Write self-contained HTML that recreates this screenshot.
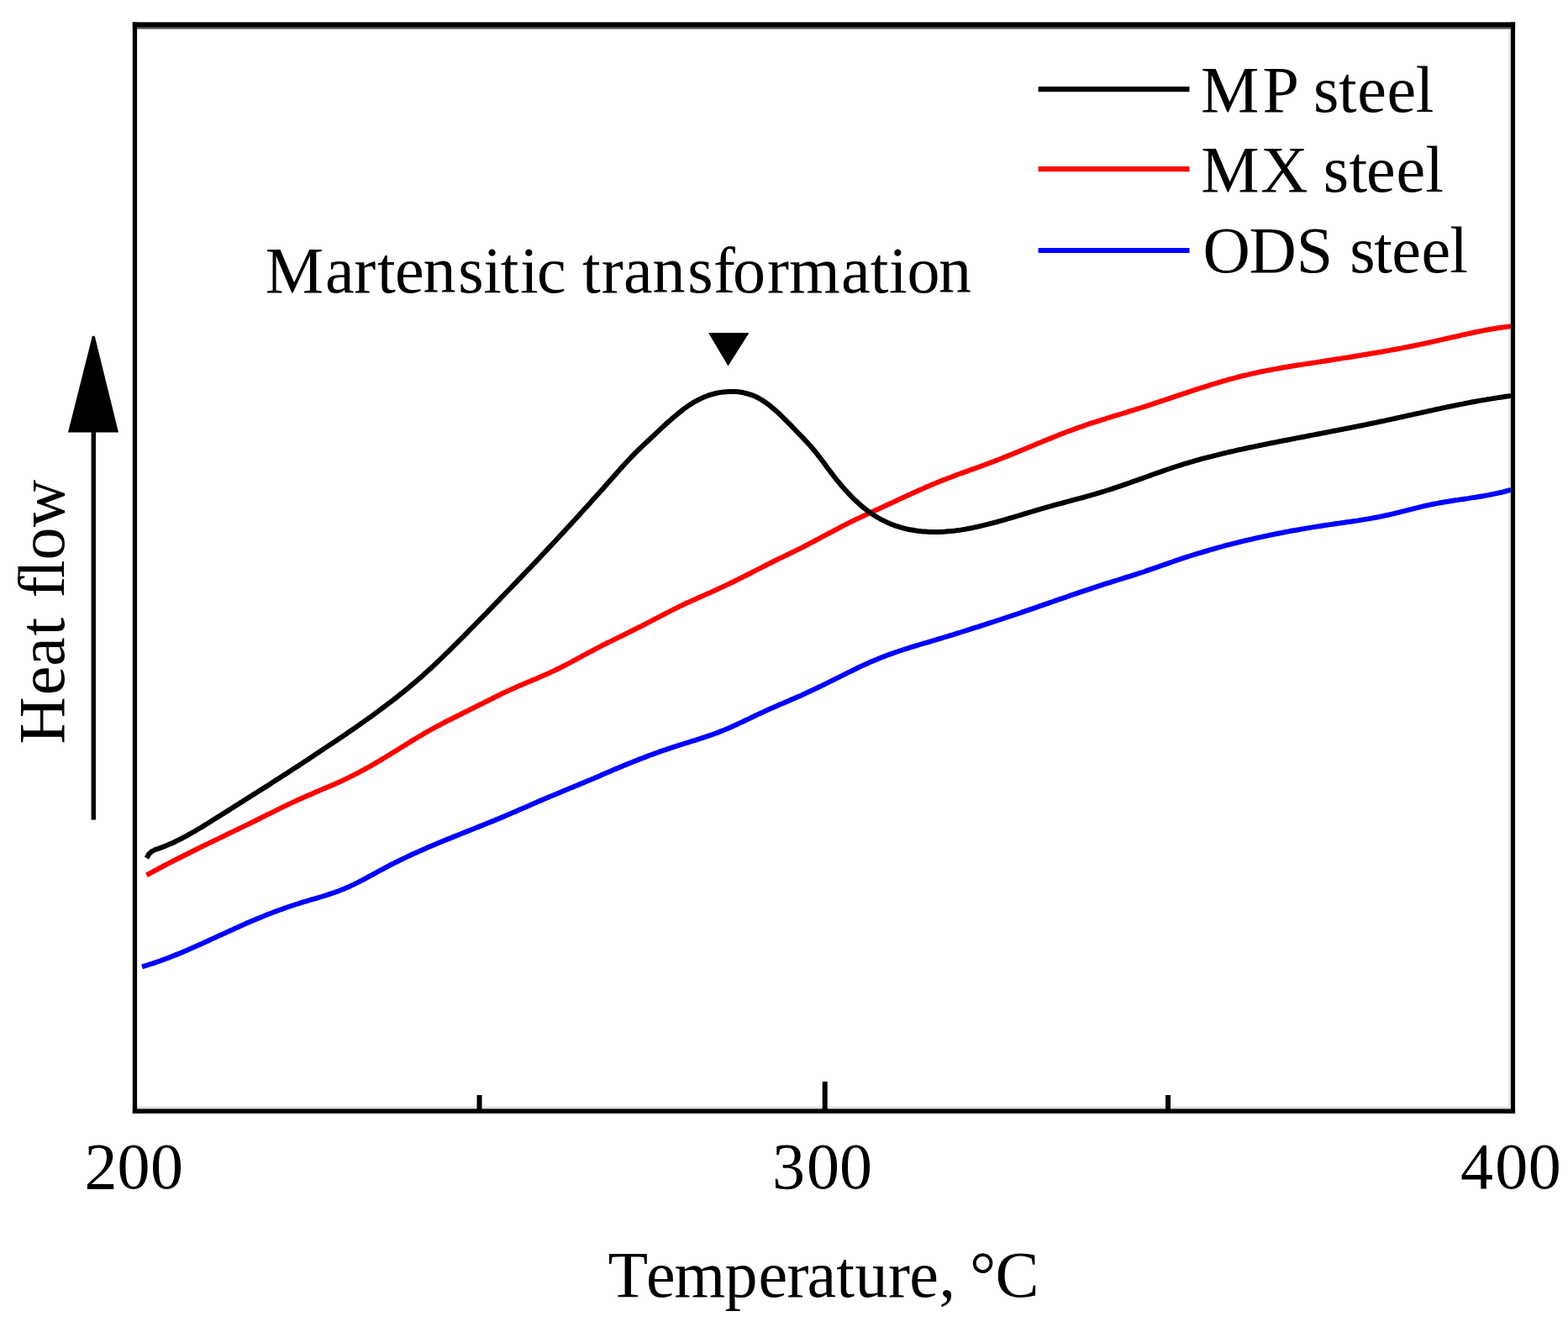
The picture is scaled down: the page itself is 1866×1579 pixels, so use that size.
<!DOCTYPE html>
<html><head><meta charset="utf-8"><title>Heat flow vs Temperature</title>
<style>
html,body{margin:0;padding:0;background:#fff;}
body{width:1866px;height:1579px;overflow:hidden;}
svg{display:block;}
text{font-family:"Liberation Serif","Times New Roman",serif;fill:#000;font-kerning:none;font-variant-ligatures:none;}
</style></head><body>
<svg width="1866" height="1579" viewBox="0 0 1866 1579">
<rect width="1866" height="1579" fill="#fff"/>
<rect x="163.1" y="1316.6" width="1634.7" height="2.4" fill="#e2e2e2"/>
<rect x="1795" y="34.5" width="2.6" height="1282" fill="#e8e8e8"/>
<g fill="none" stroke-linejoin="round" stroke-linecap="butt">
<path d="M169.1 1150.3 172.1 1149.4 175.1 1148.5 178.1 1147.5 181.1 1146.6 184.1 1145.6 187.1 1144.5 190.1 1143.5 193.1 1142.4 196.1 1141.3 199.2 1140.2 202.2 1139 205.2 1137.8 208.2 1136.6 211.2 1135.4 214.2 1134.2 217.2 1132.9 220.2 1131.7 223.2 1130.4 226.2 1129.1 229.2 1127.8 232.2 1126.4 235.2 1125.1 238.2 1123.7 241.2 1122.4 244.2 1121 247.2 1119.7 250.2 1118.3 253.2 1116.9 256.3 1115.5 259.3 1114.1 262.3 1112.8 265.3 1111.4 268.3 1110 271.3 1108.6 274.3 1107.2 277.3 1105.9 280.3 1104.5 283.3 1103.2 286.3 1101.8 289.3 1100.5 292.3 1099.1 295.3 1097.8 298.3 1096.5 301.3 1095.2 304.3 1093.9 307.3 1092.7 310.4 1091.4 313.4 1090.2 316.4 1089 319.4 1087.8 322.4 1086.7 325.4 1085.5 328.4 1084.4 331.4 1083.3 334.4 1082.2 337.4 1081.1 340.4 1080 343.4 1079 346.4 1078 349.4 1077 352.4 1076 355.4 1075.1 358.4 1074.1 361.4 1073.2 364.4 1072.3 367.5 1071.4 370.5 1070.5 373.5 1069.7 376.5 1068.8 379.5 1067.9 382.5 1067 385.5 1066.1 388.5 1065.2 391.5 1064.2 394.5 1063.2 397.5 1062.2 400.5 1061.1 403.5 1060 406.5 1058.8 409.5 1057.6 412.5 1056.3 415.5 1055 418.5 1053.6 421.5 1052.1 424.6 1050.6 427.6 1049.1 430.6 1047.6 433.6 1046 436.6 1044.4 439.6 1042.7 442.6 1041.1 445.6 1039.5 448.6 1037.8 451.6 1036.2 454.6 1034.6 457.6 1033 460.6 1031.4 463.6 1029.8 466.6 1028.3 469.6 1026.7 472.6 1025.2 475.6 1023.8 478.7 1022.3 481.7 1020.9 484.7 1019.4 487.7 1018 490.7 1016.6 493.7 1015.3 496.7 1013.9 499.7 1012.6 502.7 1011.2 505.7 1009.9 508.7 1008.6 511.7 1007.3 514.7 1006.1 517.7 1004.8 520.7 1003.5 523.7 1002.3 526.7 1001 529.7 999.8 532.7 998.6 535.8 997.4 538.8 996.1 541.8 994.9 544.8 993.7 547.8 992.5 550.8 991.3 553.8 990.1 556.8 988.9 559.8 987.7 562.8 986.5 565.8 985.3 568.8 984.1 571.8 982.9 574.8 981.7 577.8 980.5 580.8 979.3 583.8 978.1 586.8 976.9 589.8 975.6 592.9 974.4 595.9 973.1 598.9 971.9 601.9 970.6 604.9 969.3 607.9 968 610.9 966.7 613.9 965.4 616.9 964.1 619.9 962.8 622.9 961.5 625.9 960.2 628.9 958.9 631.9 957.6 634.9 956.3 637.9 954.9 640.9 953.6 643.9 952.4 647 951.1 650 949.8 653 948.5 656 947.2 659 946 662 944.7 665 943.5 668 942.3 671 941 674 939.8 677 938.5 680 937.3 683 936.1 686 934.8 689 933.6 692 932.3 695 931.1 698 929.8 701 928.5 704.1 927.2 707.1 926 710.1 924.7 713.1 923.4 716.1 922.1 719.1 920.8 722.1 919.5 725.1 918.2 728.1 916.9 731.1 915.6 734.1 914.4 737.1 913.1 740.1 911.9 743.1 910.6 746.1 909.4 749.1 908.2 752.1 907 755.1 905.8 758.1 904.6 761.2 903.4 764.2 902.2 767.2 901.1 770.2 899.9 773.2 898.8 776.2 897.7 779.2 896.6 782.2 895.5 785.2 894.4 788.2 893.4 791.2 892.3 794.2 891.3 797.2 890.3 800.2 889.3 803.2 888.3 806.2 887.4 809.2 886.4 812.2 885.5 815.3 884.5 818.3 883.6 821.3 882.7 824.3 881.7 827.3 880.8 830.3 879.8 833.3 878.9 836.3 877.9 839.3 876.9 842.3 875.9 845.3 874.9 848.3 873.8 851.3 872.7 854.3 871.6 857.3 870.4 860.3 869.2 863.3 868 866.3 866.7 869.3 865.4 872.4 864 875.4 862.7 878.4 861.3 881.4 859.9 884.4 858.5 887.4 857 890.4 855.6 893.4 854.2 896.4 852.7 899.4 851.3 902.4 849.9 905.4 848.5 908.4 847.1 911.4 845.7 914.4 844.3 917.4 843 920.4 841.7 923.4 840.4 926.4 839.1 929.5 837.8 932.5 836.5 935.5 835.2 938.5 833.9 941.5 832.6 944.5 831.3 947.5 830 950.5 828.7 953.5 827.4 956.5 826 959.5 824.6 962.5 823.3 965.5 821.8 968.5 820.4 971.5 819 974.5 817.5 977.5 816.1 980.5 814.6 983.6 813.1 986.6 811.6 989.6 810.1 992.6 808.6 995.6 807.1 998.6 805.6 1001.6 804.1 1004.6 802.6 1007.6 801.1 1010.6 799.6 1013.6 798.2 1016.6 796.7 1019.6 795.3 1022.6 793.8 1025.6 792.4 1028.6 791 1031.6 789.7 1034.6 788.3 1037.6 787 1040.7 785.7 1043.7 784.5 1046.7 783.2 1049.7 782 1052.7 780.9 1055.7 779.7 1058.7 778.6 1061.7 777.6 1064.7 776.5 1067.7 775.5 1070.7 774.5 1073.7 773.5 1076.7 772.5 1079.7 771.6 1082.7 770.6 1085.7 769.7 1088.7 768.8 1091.7 767.9 1094.7 767 1097.8 766 1100.8 765.1 1103.8 764.3 1106.8 763.4 1109.8 762.5 1112.8 761.6 1115.8 760.7 1118.8 759.8 1121.8 758.9 1124.8 758 1127.8 757.1 1130.8 756.2 1133.8 755.3 1136.8 754.3 1139.8 753.4 1142.8 752.5 1145.8 751.5 1148.8 750.6 1151.8 749.6 1154.9 748.7 1157.9 747.7 1160.9 746.7 1163.9 745.8 1166.9 744.8 1169.9 743.8 1172.9 742.9 1175.9 741.9 1178.9 740.9 1181.9 740 1184.9 739 1187.9 738 1190.9 737 1193.9 736 1196.9 735 1199.9 734 1202.9 733 1205.9 732 1209 731 1212 730 1215 729 1218 727.9 1221 726.9 1224 725.9 1227 724.8 1230 723.8 1233 722.8 1236 721.7 1239 720.7 1242 719.6 1245 718.6 1248 717.6 1251 716.5 1254 715.5 1257 714.4 1260 713.4 1263 712.3 1266.1 711.3 1269.1 710.3 1272.1 709.2 1275.1 708.2 1278.1 707.2 1281.1 706.1 1284.1 705.1 1287.1 704.1 1290.1 703.1 1293.1 702.1 1296.1 701.1 1299.1 700.1 1302.1 699.1 1305.1 698.1 1308.1 697.1 1311.1 696.2 1314.1 695.2 1317.1 694.2 1320.1 693.3 1323.2 692.3 1326.2 691.4 1329.2 690.5 1332.2 689.5 1335.2 688.6 1338.2 687.7 1341.2 686.7 1344.2 685.8 1347.2 684.8 1350.2 683.9 1353.2 682.9 1356.2 681.9 1359.2 681 1362.2 680 1365.2 678.9 1368.2 677.9 1371.2 676.9 1374.2 675.8 1377.3 674.8 1380.3 673.7 1383.3 672.7 1386.3 671.6 1389.3 670.6 1392.3 669.5 1395.3 668.5 1398.3 667.4 1401.3 666.4 1404.3 665.4 1407.3 664.4 1410.3 663.4 1413.3 662.4 1416.3 661.5 1419.3 660.5 1422.3 659.6 1425.3 658.7 1428.3 657.8 1431.3 656.9 1434.4 656 1437.4 655.1 1440.4 654.2 1443.4 653.4 1446.4 652.5 1449.4 651.7 1452.4 650.9 1455.4 650 1458.4 649.2 1461.4 648.4 1464.4 647.7 1467.4 646.9 1470.4 646.1 1473.4 645.4 1476.4 644.6 1479.4 643.9 1482.4 643.2 1485.4 642.5 1488.4 641.8 1491.5 641.1 1494.5 640.4 1497.5 639.7 1500.5 639.1 1503.5 638.4 1506.5 637.8 1509.5 637.1 1512.5 636.5 1515.5 635.9 1518.5 635.3 1521.5 634.7 1524.5 634.1 1527.5 633.5 1530.5 632.9 1533.5 632.4 1536.5 631.8 1539.5 631.2 1542.5 630.7 1545.6 630.2 1548.6 629.6 1551.6 629.1 1554.6 628.6 1557.6 628.1 1560.6 627.6 1563.6 627.1 1566.6 626.6 1569.6 626.2 1572.6 625.7 1575.6 625.3 1578.6 624.8 1581.6 624.4 1584.6 623.9 1587.6 623.5 1590.6 623 1593.6 622.6 1596.6 622.2 1599.6 621.8 1602.7 621.3 1605.7 620.9 1608.7 620.5 1611.7 620 1614.7 619.6 1617.7 619.1 1620.7 618.6 1623.7 618.1 1626.7 617.6 1629.7 617.1 1632.7 616.6 1635.7 616 1638.7 615.5 1641.7 614.9 1644.7 614.3 1647.7 613.6 1650.7 613 1653.7 612.3 1656.7 611.6 1659.8 610.9 1662.8 610.1 1665.8 609.4 1668.8 608.6 1671.8 607.9 1674.8 607.1 1677.8 606.3 1680.8 605.6 1683.8 604.8 1686.8 604.1 1689.8 603.3 1692.8 602.6 1695.8 601.9 1698.8 601.3 1701.8 600.6 1704.8 600 1707.8 599.4 1710.8 598.9 1713.9 598.3 1716.9 597.8 1719.9 597.3 1722.9 596.8 1725.9 596.3 1728.9 595.8 1731.9 595.3 1734.9 594.9 1737.9 594.4 1740.9 594 1743.9 593.5 1746.9 593.1 1749.9 592.6 1752.9 592.1 1755.9 591.7 1758.9 591.2 1761.9 590.7 1764.9 590.2 1767.9 589.6 1771 589.1 1774 588.5 1777 587.9 1780 587.3 1783 586.6 1786 586 1789 585.3 1792 584.5 1795 583.7 1798 582.9" stroke="#0000ff" stroke-width="6"/>
<path d="M174.5 1041.4 177.5 1039.7 180.5 1038.1 183.5 1036.4 186.5 1034.8 189.5 1033.2 192.5 1031.6 195.5 1030 198.5 1028.4 201.5 1026.9 204.5 1025.3 207.5 1023.8 210.5 1022.2 213.5 1020.7 216.5 1019.2 219.5 1017.7 222.5 1016.2 225.5 1014.7 228.5 1013.2 231.5 1011.7 234.5 1010.2 237.5 1008.8 240.5 1007.3 243.5 1005.8 246.5 1004.4 249.5 1002.9 252.5 1001.5 255.5 1000 258.5 998.6 261.5 997.1 264.5 995.7 267.5 994.2 270.5 992.8 273.5 991.3 276.5 989.9 279.5 988.4 282.5 987 285.5 985.5 288.5 984.1 291.5 982.6 294.5 981.2 297.5 979.7 300.5 978.3 303.5 976.8 306.5 975.3 309.5 973.8 312.5 972.3 315.5 970.8 318.5 969.3 321.5 967.9 324.5 966.4 327.5 964.9 330.5 963.4 333.5 961.9 336.5 960.4 339.6 958.9 342.6 957.5 345.6 956.1 348.6 954.6 351.6 953.2 354.6 951.8 357.6 950.5 360.6 949.1 363.6 947.8 366.6 946.5 369.6 945.2 372.6 943.9 375.6 942.6 378.6 941.4 381.6 940.1 384.6 938.8 387.6 937.6 390.6 936.3 393.6 935 396.6 933.7 399.6 932.4 402.6 931 405.6 929.7 408.6 928.3 411.6 926.9 414.6 925.4 417.6 923.9 420.6 922.4 423.6 920.9 426.6 919.3 429.6 917.7 432.6 916.1 435.6 914.4 438.6 912.8 441.6 911.1 444.6 909.4 447.6 907.6 450.6 905.9 453.6 904.1 456.6 902.3 459.6 900.5 462.6 898.6 465.6 896.8 468.6 894.9 471.6 893.1 474.6 891.2 477.6 889.4 480.6 887.5 483.6 885.6 486.6 883.8 489.6 881.9 492.6 880.1 495.6 878.3 498.6 876.5 501.6 874.7 504.6 872.9 507.6 871.2 510.6 869.5 513.6 867.8 516.6 866.2 519.6 864.5 522.6 863 525.6 861.4 528.6 859.8 531.6 858.3 534.6 856.8 537.6 855.3 540.6 853.8 543.6 852.3 546.6 850.8 549.6 849.3 552.6 847.8 555.6 846.3 558.6 844.8 561.6 843.3 564.6 841.8 567.6 840.3 570.6 838.8 573.6 837.3 576.6 835.7 579.6 834.2 582.6 832.7 585.6 831.2 588.6 829.7 591.6 828.2 594.6 826.8 597.6 825.3 600.6 823.9 603.6 822.5 606.6 821.1 609.6 819.7 612.6 818.4 615.6 817.1 618.6 815.8 621.6 814.5 624.6 813.2 627.6 811.9 630.6 810.7 633.6 809.4 636.6 808.2 639.6 806.9 642.6 805.6 645.6 804.3 648.6 803 651.6 801.7 654.6 800.3 657.6 798.9 660.6 797.5 663.7 796 666.7 794.5 669.7 793 672.7 791.5 675.7 789.9 678.7 788.3 681.7 786.7 684.7 785.1 687.7 783.5 690.7 781.8 693.7 780.2 696.7 778.6 699.7 777 702.7 775.4 705.7 773.8 708.7 772.2 711.7 770.6 714.7 769.1 717.7 767.5 720.7 766 723.7 764.5 726.7 763.1 729.7 761.6 732.7 760.1 735.7 758.6 738.7 757.2 741.7 755.7 744.7 754.2 747.7 752.8 750.7 751.3 753.7 749.8 756.7 748.3 759.7 746.8 762.7 745.3 765.7 743.7 768.7 742.2 771.7 740.6 774.7 739.1 777.7 737.5 780.7 735.9 783.7 734.4 786.7 732.8 789.7 731.2 792.7 729.7 795.7 728.1 798.7 726.6 801.7 725.1 804.7 723.6 807.7 722.1 810.7 720.7 813.7 719.3 816.7 717.8 819.7 716.5 822.7 715.1 825.7 713.7 828.7 712.4 831.7 711 834.7 709.7 837.7 708.4 840.7 707 843.7 705.7 846.7 704.4 849.7 703 852.7 701.7 855.7 700.3 858.7 698.9 861.7 697.5 864.7 696.1 867.7 694.7 870.7 693.2 873.7 691.7 876.7 690.2 879.7 688.8 882.7 687.3 885.7 685.7 888.7 684.2 891.7 682.7 894.7 681.2 897.7 679.6 900.7 678.1 903.7 676.6 906.7 675.1 909.7 673.5 912.7 672 915.7 670.5 918.7 669 921.7 667.5 924.7 666 927.7 664.5 930.7 663.1 933.7 661.6 936.7 660.2 939.7 658.8 942.7 657.3 945.7 655.9 948.7 654.4 951.7 652.9 954.7 651.4 957.7 649.8 960.7 648.3 963.7 646.7 966.7 645.1 969.7 643.5 972.7 641.9 975.7 640.3 978.7 638.7 981.7 637.1 984.7 635.5 987.8 633.9 990.8 632.3 993.8 630.7 996.8 629.1 999.8 627.5 1002.8 625.9 1005.8 624.4 1008.8 622.9 1011.8 621.4 1014.8 619.9 1017.8 618.4 1020.8 617 1023.8 615.6 1026.8 614.2 1029.8 612.8 1032.8 611.4 1035.8 610 1038.8 608.6 1041.8 607.2 1044.8 605.9 1047.8 604.5 1050.8 603.1 1053.8 601.7 1056.8 600.3 1059.8 599 1062.8 597.6 1065.8 596.2 1068.8 594.8 1071.8 593.4 1074.8 592 1077.8 590.6 1080.8 589.2 1083.8 587.9 1086.8 586.5 1089.8 585.2 1092.8 583.8 1095.8 582.5 1098.8 581.2 1101.8 579.8 1104.8 578.6 1107.8 577.3 1110.8 576 1113.8 574.8 1116.8 573.5 1119.8 572.3 1122.8 571.1 1125.8 570 1128.8 568.8 1131.8 567.7 1134.8 566.5 1137.8 565.4 1140.8 564.3 1143.8 563.2 1146.8 562.2 1149.8 561.1 1152.8 560 1155.8 558.9 1158.8 557.8 1161.8 556.8 1164.8 555.7 1167.8 554.6 1170.8 553.5 1173.8 552.4 1176.8 551.3 1179.8 550.1 1182.8 549 1185.8 547.8 1188.8 546.7 1191.8 545.5 1194.8 544.3 1197.8 543.1 1200.8 541.9 1203.8 540.7 1206.8 539.4 1209.8 538.2 1212.8 537 1215.8 535.7 1218.8 534.5 1221.8 533.2 1224.8 532 1227.8 530.7 1230.8 529.5 1233.8 528.2 1236.8 527 1239.8 525.8 1242.8 524.5 1245.8 523.3 1248.8 522.1 1251.8 520.9 1254.8 519.7 1257.8 518.5 1260.8 517.3 1263.8 516.1 1266.8 515 1269.8 513.8 1272.8 512.7 1275.8 511.6 1278.8 510.5 1281.8 509.4 1284.8 508.3 1287.8 507.3 1290.8 506.3 1293.8 505.2 1296.8 504.2 1299.8 503.2 1302.8 502.3 1305.8 501.3 1308.8 500.3 1311.9 499.4 1314.9 498.5 1317.9 497.5 1320.9 496.6 1323.9 495.7 1326.9 494.7 1329.9 493.8 1332.9 492.9 1335.9 492 1338.9 491.1 1341.9 490.2 1344.9 489.2 1347.9 488.3 1350.9 487.4 1353.9 486.4 1356.9 485.5 1359.9 484.6 1362.9 483.6 1365.9 482.6 1368.9 481.7 1371.9 480.7 1374.9 479.7 1377.9 478.7 1380.9 477.7 1383.9 476.7 1386.9 475.7 1389.9 474.7 1392.9 473.7 1395.9 472.7 1398.9 471.7 1401.9 470.7 1404.9 469.7 1407.9 468.7 1410.9 467.7 1413.9 466.7 1416.9 465.7 1419.9 464.7 1422.9 463.7 1425.9 462.7 1428.9 461.7 1431.9 460.8 1434.9 459.8 1437.9 458.9 1440.9 457.9 1443.9 457 1446.9 456.1 1449.9 455.2 1452.9 454.3 1455.9 453.4 1458.9 452.6 1461.9 451.7 1464.9 450.9 1467.9 450.1 1470.9 449.3 1473.9 448.5 1476.9 447.7 1479.9 447 1482.9 446.3 1485.9 445.6 1488.9 444.9 1491.9 444.2 1494.9 443.6 1497.9 442.9 1500.9 442.3 1503.9 441.7 1506.9 441.1 1509.9 440.5 1512.9 440 1515.9 439.4 1518.9 438.9 1521.9 438.3 1524.9 437.8 1527.9 437.3 1530.9 436.8 1533.9 436.3 1536.9 435.8 1539.9 435.3 1542.9 434.8 1545.9 434.3 1548.9 433.9 1551.9 433.4 1554.9 432.9 1557.9 432.5 1560.9 432 1563.9 431.5 1566.9 431.1 1569.9 430.6 1572.9 430.1 1575.9 429.7 1578.9 429.2 1581.9 428.7 1584.9 428.3 1587.9 427.8 1590.9 427.3 1593.9 426.9 1596.9 426.4 1599.9 425.9 1602.9 425.5 1605.9 425 1608.9 424.5 1611.9 424 1614.9 423.5 1617.9 423 1620.9 422.5 1623.9 422 1626.9 421.5 1629.9 421 1632.9 420.5 1636 420 1639 419.5 1642 419 1645 418.5 1648 417.9 1651 417.4 1654 416.9 1657 416.3 1660 415.8 1663 415.2 1666 414.6 1669 414.1 1672 413.5 1675 412.9 1678 412.3 1681 411.7 1684 411.1 1687 410.5 1690 409.9 1693 409.2 1696 408.6 1699 407.9 1702 407.3 1705 406.6 1708 405.9 1711 405.3 1714 404.6 1717 403.9 1720 403.2 1723 402.5 1726 401.8 1729 401.1 1732 400.5 1735 399.8 1738 399.1 1741 398.4 1744 397.8 1747 397.1 1750 396.5 1753 395.8 1756 395.2 1759 394.6 1762 394 1765 393.4 1768 392.8 1771 392.3 1774 391.7 1777 391.2 1780 390.7 1783 390.2 1786 389.8 1789 389.4 1792 389 1795 388.6 1798 388.2" stroke="#ff0000" stroke-width="6"/>
<path d="M174.5 1021 177 1016.5 180.5 1013.2 185 1010.9 188 1010 191 1008.9 194 1007.8 197 1006.6 200 1005.3 203 1004 206 1002.7 209 1001.2 212 999.8 215 998.2 218 996.7 221 995.1 224 993.4 227.1 991.7 230.1 990 233.1 988.3 236.1 986.5 239.1 984.7 242.1 982.9 245.1 981 248.1 979.2 251.1 977.3 254.1 975.4 257.1 973.5 260.1 971.6 263.1 969.7 266.1 967.9 269.1 966 272.1 964.1 275.1 962.2 278.1 960.3 281.1 958.4 284.1 956.5 287.1 954.6 290.1 952.7 293.1 950.8 296.1 948.9 299.1 947 302.1 945.1 305.1 943.2 308.2 941.3 311.2 939.4 314.2 937.5 317.2 935.6 320.2 933.7 323.2 931.7 326.2 929.8 329.2 927.9 332.2 926 335.2 924 338.2 922.1 341.2 920.2 344.2 918.2 347.2 916.3 350.2 914.3 353.2 912.4 356.2 910.4 359.2 908.5 362.2 906.5 365.2 904.5 368.2 902.6 371.2 900.6 374.2 898.6 377.2 896.6 380.2 894.6 383.2 892.6 386.2 890.6 389.3 888.6 392.3 886.6 395.3 884.6 398.3 882.6 401.3 880.5 404.3 878.5 407.3 876.5 410.3 874.4 413.3 872.4 416.3 870.3 419.3 868.2 422.3 866.2 425.3 864.1 428.3 862 431.3 859.9 434.3 857.7 437.3 855.6 440.3 853.5 443.3 851.3 446.3 849.1 449.3 846.9 452.3 844.7 455.3 842.5 458.3 840.2 461.3 837.9 464.3 835.6 467.4 833.3 470.4 831 473.4 828.6 476.4 826.2 479.4 823.8 482.4 821.4 485.4 818.9 488.4 816.4 491.4 813.9 494.4 811.4 497.4 808.8 500.4 806.2 503.4 803.5 506.4 800.8 509.4 798.1 512.4 795.4 515.4 792.6 518.4 789.8 521.4 786.9 524.4 784.1 527.4 781.2 530.4 778.2 533.4 775.3 536.4 772.3 539.4 769.4 542.4 766.4 545.4 763.3 548.5 760.3 551.5 757.3 554.5 754.3 557.5 751.2 560.5 748.1 563.5 745.1 566.5 742 569.5 739 572.5 735.9 575.5 732.8 578.5 729.8 581.5 726.7 584.5 723.6 587.5 720.5 590.5 717.4 593.5 714.3 596.5 711.2 599.5 708.1 602.5 705 605.5 701.9 608.5 698.8 611.5 695.7 614.5 692.6 617.5 689.4 620.5 686.3 623.5 683.2 626.5 680 629.6 676.9 632.6 673.7 635.6 670.5 638.6 667.4 641.6 664.2 644.6 661 647.6 657.8 650.6 654.6 653.6 651.4 656.6 648.2 659.6 645 662.6 641.8 665.6 638.5 668.6 635.3 671.6 632.1 674.6 628.8 677.6 625.5 680.6 622.3 683.6 619 686.6 615.7 689.6 612.4 692.6 609.1 695.6 605.8 698.6 602.5 701.6 599.2 704.6 595.8 707.6 592.5 710.7 589.1 713.7 585.8 716.7 582.4 719.7 579 722.7 575.6 725.7 572.2 728.7 568.8 731.7 565.4 734.7 562 737.7 558.6 740.7 555.2 743.7 551.9 746.7 548.7 749.7 545.5 752.7 542.4 755.7 539.3 758.7 536.4 761.7 533.5 764.7 530.6 767.7 527.8 770.7 525 773.7 522.2 776.7 519.4 779.7 516.6 782.7 513.7 785.7 510.9 788.7 508.1 791.8 505.3 794.8 502.6 797.8 499.9 800.8 497.3 803.8 494.7 806.8 492.2 809.8 489.8 812.8 487.4 815.8 485.2 818.8 483.1 821.8 481.1 824.8 479.2 827.8 477.5 830.8 475.9 833.8 474.4 836.8 473 839.8 471.8 842.8 470.7 845.8 469.7 848.8 468.8 851.8 468 854.8 467.4 857.8 466.9 860.8 466.5 863.8 466.2 866.8 466 869.8 465.9 872.9 465.9 875.9 466.1 878.9 466.3 881.9 466.7 884.9 467.3 887.9 468 890.9 468.8 893.9 469.8 896.9 470.9 899.9 472.3 902.9 473.8 905.9 475.5 908.9 477.4 911.9 479.5 914.9 481.7 917.9 484.1 920.9 486.6 923.9 489.2 926.9 492 929.9 494.8 932.9 497.8 935.9 500.8 938.9 503.8 941.9 506.9 944.9 510 947.9 513.2 950.9 516.3 954 519.4 957 522.6 960 525.8 963 529 966 532.4 969 536 972 539.7 975 543.6 978 547.5 981 551.6 984 555.6 987 559.7 990 563.6 993 567.5 996 571.3 999 574.9 1002 578.5 1005 581.9 1008 585.2 1011 588.4 1014 591.5 1017 594.5 1020 597.3 1023 600.1 1026 602.6 1029 605.1 1032.1 607.4 1035.1 609.7 1038.1 611.7 1041.1 613.7 1044.1 615.5 1047.1 617.3 1050.1 618.9 1053.1 620.4 1056.1 621.8 1059.1 623.1 1062.1 624.3 1065.1 625.4 1068.1 626.4 1071.1 627.4 1074.1 628.2 1077.1 629 1080.1 629.7 1083.1 630.3 1086.1 630.8 1089.1 631.3 1092.1 631.7 1095.1 632.1 1098.1 632.4 1101.1 632.6 1104.1 632.8 1107.1 632.9 1110.1 633 1113.2 633 1116.2 633 1119.2 632.9 1122.2 632.7 1125.2 632.6 1128.2 632.3 1131.2 632.1 1134.2 631.7 1137.2 631.4 1140.2 631 1143.2 630.6 1146.2 630.1 1149.2 629.6 1152.2 629 1155.2 628.5 1158.2 627.9 1161.2 627.2 1164.2 626.6 1167.2 625.9 1170.2 625.2 1173.2 624.4 1176.2 623.7 1179.2 622.9 1182.2 622.1 1185.2 621.3 1188.2 620.5 1191.2 619.6 1194.3 618.8 1197.3 617.9 1200.3 617 1203.3 616.2 1206.3 615.3 1209.3 614.4 1212.3 613.5 1215.3 612.6 1218.3 611.7 1221.3 610.8 1224.3 609.9 1227.3 609 1230.3 608.1 1233.3 607.2 1236.3 606.3 1239.3 605.4 1242.3 604.6 1245.3 603.7 1248.3 602.9 1251.3 602 1254.3 601.2 1257.3 600.4 1260.3 599.6 1263.3 598.8 1266.3 598 1269.3 597.2 1272.3 596.3 1275.4 595.5 1278.4 594.7 1281.4 593.9 1284.4 593.1 1287.4 592.3 1290.4 591.5 1293.4 590.6 1296.4 589.8 1299.4 588.9 1302.4 588.1 1305.4 587.2 1308.4 586.3 1311.4 585.4 1314.4 584.5 1317.4 583.5 1320.4 582.6 1323.4 581.6 1326.4 580.6 1329.4 579.6 1332.4 578.6 1335.4 577.6 1338.4 576.6 1341.4 575.5 1344.4 574.5 1347.4 573.4 1350.4 572.3 1353.4 571.3 1356.5 570.2 1359.5 569.1 1362.5 568 1365.5 567 1368.5 565.9 1371.5 564.8 1374.5 563.7 1377.5 562.7 1380.5 561.6 1383.5 560.6 1386.5 559.5 1389.5 558.5 1392.5 557.5 1395.5 556.5 1398.5 555.5 1401.5 554.5 1404.5 553.6 1407.5 552.6 1410.5 551.7 1413.5 550.8 1416.5 549.9 1419.5 549.1 1422.5 548.2 1425.5 547.3 1428.5 546.5 1431.5 545.7 1434.5 544.9 1437.6 544.1 1440.6 543.3 1443.6 542.6 1446.6 541.8 1449.6 541.1 1452.6 540.3 1455.6 539.6 1458.6 538.9 1461.6 538.2 1464.6 537.5 1467.6 536.8 1470.6 536.1 1473.6 535.4 1476.6 534.8 1479.6 534.1 1482.6 533.5 1485.6 532.8 1488.6 532.2 1491.6 531.6 1494.6 531 1497.6 530.3 1500.6 529.7 1503.6 529.1 1506.6 528.5 1509.6 527.9 1512.6 527.3 1515.6 526.7 1518.7 526.1 1521.7 525.5 1524.7 524.9 1527.7 524.3 1530.7 523.8 1533.7 523.2 1536.7 522.6 1539.7 522 1542.7 521.4 1545.7 520.8 1548.7 520.3 1551.7 519.7 1554.7 519.1 1557.7 518.5 1560.7 517.9 1563.7 517.4 1566.7 516.8 1569.7 516.2 1572.7 515.6 1575.7 515 1578.7 514.5 1581.7 513.9 1584.7 513.3 1587.7 512.7 1590.7 512.1 1593.7 511.5 1596.8 511 1599.8 510.4 1602.8 509.8 1605.8 509.2 1608.8 508.6 1611.8 508 1614.8 507.4 1617.8 506.8 1620.8 506.2 1623.8 505.6 1626.8 505 1629.8 504.3 1632.8 503.7 1635.8 503.1 1638.8 502.5 1641.8 501.8 1644.8 501.2 1647.8 500.6 1650.8 499.9 1653.8 499.3 1656.8 498.6 1659.8 498 1662.8 497.3 1665.8 496.7 1668.8 496 1671.8 495.4 1674.8 494.7 1677.9 494 1680.9 493.4 1683.9 492.7 1686.9 492 1689.9 491.4 1692.9 490.7 1695.9 490.1 1698.9 489.4 1701.9 488.7 1704.9 488.1 1707.9 487.4 1710.9 486.8 1713.9 486.1 1716.9 485.5 1719.9 484.9 1722.9 484.2 1725.9 483.6 1728.9 483 1731.9 482.4 1734.9 481.8 1737.9 481.1 1740.9 480.6 1743.9 480 1746.9 479.4 1749.9 478.8 1752.9 478.2 1755.9 477.7 1759 477.1 1762 476.6 1765 476.1 1768 475.6 1771 475 1774 474.6 1777 474.1 1780 473.6 1783 473.1 1786 472.7 1789 472.3 1792 471.8 1795 471.4 1798 471" stroke="#000" stroke-width="6"/>
</g>
<g fill="#000">
<rect x="157.8" y="26.4" width="1645.3" height="5.6"/>
<rect x="157.8" y="32" width="1645.3" height="2.5" fill="#474747"/>
<rect x="157.8" y="26.4" width="5.3" height="1298.5"/>
<rect x="1797.85" y="26.4" width="5.2" height="1298.5"/>
<rect x="157.8" y="1319.4" width="1645.3" height="5.5"/>
</g>
<g stroke="#000" stroke-width="6">
<line x1="570.5" y1="1303" x2="570.5" y2="1320"/>
<line x1="981.7" y1="1287" x2="981.7" y2="1320"/>
<line x1="1390" y1="1303" x2="1390" y2="1320"/>
</g>
<text x="100.5 139.6 178.9" y="1413.8" font-size="78">200</text>
<text x="919 960.1 999.1" y="1413.8" font-size="78">300</text>
<text x="1738 1779.2 1818.8" y="1413.8" font-size="78">400</text>
<text x="723.4 769 802.5 862.4 902.5 936.4 960.5 995.2 1017.6 1057 1082.2 1117.6 1137.1 1154 1184.5" y="1542.7" font-size="78">Temperature, °C</text>
<text x="315.8 387.1 421.2 449 470.1 503.4 545.2 575.2 595.7 618.9 639 673.6 692.9 715.8 742 776.4 818.2 849.1 871.9 912.9 939 1001.1 1035.8 1058 1079.4 1117" y="347.8" font-size="78">Martensitic transformation</text>
<text x="1429 1502.6 1543.1 1563.1 1593.1 1615.2 1650.5 1684.8" y="132.7" font-size="78">MP steel</text>
<text x="1429.2 1500.3 1556.7 1574.8 1605.4 1626.1 1661.6 1696.3" y="227.6" font-size="78">MX steel</text>
<text x="1431.5 1486.6 1542.7 1586.1 1606.2 1635.3 1656.2 1691.5 1725.2" y="323.6" font-size="78">ODS steel</text>
<text transform="translate(75.8,882.2) rotate(-90)" x="-3.2 55 89.5 125.8 147.5 170.7 194.2 215.6 255.2" y="0" font-size="78">Heat flow</text>
<polygon points="843,396 891.5,396 866.5,435.5" fill="#000"/>
<g stroke-width="6.2" stroke-linecap="butt">
<line x1="1235.6" y1="106.2" x2="1415.5" y2="106.2" stroke="#000"/>
<line x1="1235.6" y1="201.2" x2="1415.5" y2="201.2" stroke="#ff0000"/>
<line x1="1235.6" y1="298" x2="1415.5" y2="298" stroke="#0000ff"/>
</g>

<polygon points="109.9,399.8 112.7,399.8 141,514.5 81,514.5" fill="#000"/>
<line x1="111.3" y1="510" x2="111.3" y2="975.6" stroke="#000" stroke-width="5.4"/>

</svg>
</body></html>
